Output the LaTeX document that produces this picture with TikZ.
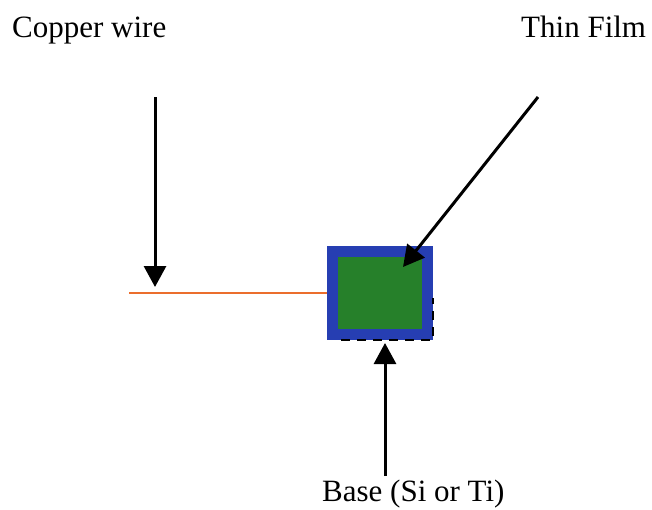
\documentclass[tikz,border=0pt]{standalone}
\usepackage{fontspec}
\setmainfont{Liberation Serif}
\usetikzlibrary{arrows.meta,positioning}
\definecolor{wireorange}{RGB}{235,110,45}
\definecolor{filmgreen}{RGB}{38,128,42}
\definecolor{baseblue}{RGB}{38,62,178}
\tikzset{
  tag/.style={
    font=\fontsize{31}{37}\selectfont,
    inner sep=0pt,
    anchor=base west
  },
  pointer/.style={
    line width=3pt,
    -{Triangle[length=21pt,width=22pt]}
  },
  wire/.style={
    wireorange,
    line width=1.5pt
  },
  sample/.style={
    shape=rectangle,
    draw=baseblue,
    fill=filmgreen,
    line width=11pt,
    minimum width=95pt,
    minimum height=83pt,
    inner sep=0pt
  }
}
\begin{document}
\begin{tikzpicture}[x=1pt,y=-1pt]
        \useasboundingbox (0,0) rectangle (652,509);

        % labels
        \node[tag] (copper) at (12,37) {Copper wire};
        \node[tag] (film) at (521,37) {Thin Film};
        \node[tag] (base) at (322,501) {Base (Si or Ti)};

        % sample and wire
        \node[sample] (chip) at (380,293) {};
        \draw[line width=2pt, dash pattern=on 9pt off 7pt] ([xshift=14pt]chip.south west) -- (chip.south east) -- ++(0,-42);
        \coordinate (wireend) at (129,293);
        \draw[wire] (wireend) -- (chip.west);

        % pointers
        \coordinate (cutail) at (155,97);
        \coordinate (cutip) at (155,287);
        \coordinate (filmtail) at (538,97);
        \coordinate (filmtip) at (403,267);
        \coordinate (basetail) at (385,476);
        \draw[pointer] (cutail) -- (cutip);
        \draw[pointer] (filmtail) -- (filmtip);
        \draw[pointer, shorten >=3pt] (basetail) -- (chip.south -| basetail);
\end{tikzpicture}
\end{document}
